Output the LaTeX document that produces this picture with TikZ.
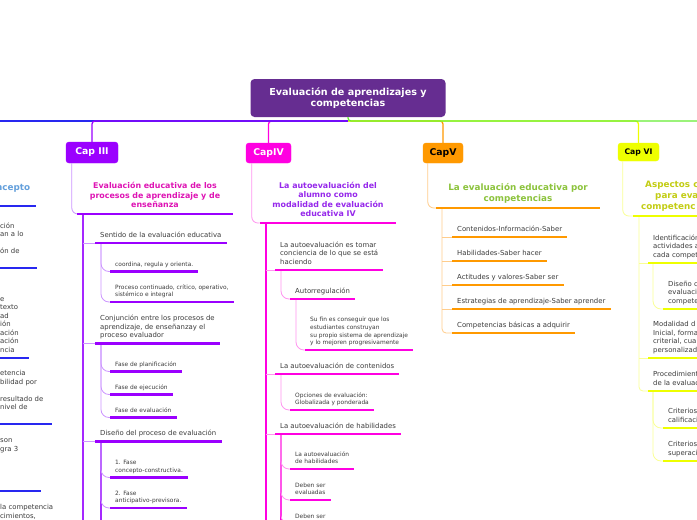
\documentclass[tikz,border=0pt]{standalone}
\usepackage{fontspec}
\setmainfont{DejaVu Sans}
\definecolor{rootc}{RGB}{102,45,145}
\definecolor{txtc}{RGB}{60,60,60}
\definecolor{c2}{RGB}{40,40,240}
\definecolor{t2c}{RGB}{100,160,220}
\definecolor{c3}{RGB}{155,0,255}
\definecolor{c3t}{RGB}{165,40,255}
\definecolor{l3}{RGB}{205,150,255}
\definecolor{t3c}{RGB}{222,20,180}
\definecolor{c4}{RGB}{255,0,225}
\definecolor{l4}{RGB}{255,150,240}
\definecolor{t4c}{RGB}{150,40,235}
\definecolor{c5}{RGB}{255,153,0}
\definecolor{l5}{RGB}{255,205,140}
\definecolor{t5c}{RGB}{140,195,60}
\definecolor{c6}{RGB}{238,255,0}
\definecolor{l6}{RGB}{250,255,150}
\definecolor{t6c}{RGB}{195,205,20}
\definecolor{gr}{RGB}{102,238,51}
\tikzset{
  every node/.style={inner sep=0pt},
  strutend/.style={execute at end node={\rule[-0.3\baselineskip]{0pt}{\baselineskip}}},
  bodyt/.style={font=\fontsize{6.9}{8.5}\selectfont, text=txtc, align=left, inner xsep=5pt, inner ysep=3pt, anchor=south west, strutend},
  smallt/.style={font=\fontsize{5.9}{7.7}\selectfont, text=txtc, align=left, inner xsep=5pt, inner ysep=2.7pt, anchor=south west, strutend},
  titlet/.style={font=\bfseries\fontsize{7.9}{9.5}\selectfont, align=center, inner xsep=12.5pt, inner ysep=3pt, anchor=south, strutend},
  bigtitlet/.style={font=\bfseries\fontsize{8.8}{11}\selectfont, align=center, inner xsep=12pt, inner ysep=3.2pt, anchor=south, strutend},
  capbox/.style={rounded corners=3pt, font=\bfseries\fontsize{9.3}{10}\selectfont, inner sep=0pt},
  uline/.style={line width=2.6pt, draw=#1},
  trunkl/.style={line width=1.8pt, draw=#1},
  thinl/.style={line width=0.8pt, draw=#1},
  mainl/.style={line width=1.3pt, draw=#1, rounded corners=3pt},
}
\begin{document}
\begin{tikzpicture}[x=1pt,y=-1pt]
\useasboundingbox (0,0) rectangle (697,520);
\begin{scope}
\clip (0,0) rectangle (697,520);
\fill[white] (0,0) rectangle (697,520);

% ---------- nodes ----------
\node[fill=rootc, rounded corners=4pt, minimum width=195pt, minimum height=38pt, text=white,
      font=\bfseries\fontsize{9.6}{11.5}\selectfont, align=center] (root) at (348,98)
      {Evaluación de aprendizajes y\\competencias};

\node[capbox, fill=c3, draw=c3, text=white, minimum width=52pt, minimum height=21pt] (cap3) at (92,152.5) {Cap III};
\node[capbox, fill=c4, draw=c4, text=white, minimum width=45pt, minimum height=20pt] (cap4) at (268.5,153) {CapIV};
\node[capbox, fill=c5, draw=c5, text=black, minimum width=40pt, minimum height=20pt] (cap5) at (443,153) {CapV};
\node[capbox, fill=c6, draw=c6, text=black, minimum width=41pt, minimum height=18pt,
      font=\bfseries\fontsize{7.7}{9}\selectfont] (cap6) at (638.5,152) {Cap VI};

\coordinate (hub) at (348,121);
\coordinate (farwest) at (-10,121);
\coordinate (fareast) at (710,121);
\coordinate (bottom) at (0,535);
\coordinate (redge) at (710,0);

% main branch lines
\draw[mainl=c4] (hub) -| (cap4.north);
\draw[mainl=c2] (hub) -- (farwest);
\draw[mainl=c3] (hub) -| (cap3.north);
\draw[mainl=c5] (hub) -| (cap5.north);
\draw[mainl=c6] (hub) -| (cap6.north);
\draw[mainl=gr] (root.south) |- (fareast);

% ---------- Cap II (cut off at left) ----------
\node[font=\bfseries\fontsize{8.8}{11}\selectfont, text=t2c, anchor=base west] (t2) at (-4,190.5) {ncepto};
\coordinate (t2ul) at (-10,206);
\draw[uline=c2] (t2ul) -- ++(46,0);
\node[bodyt] (p2a) at (-5,268) {ción\\an a lo\\\mbox{}\\ón de\\\mbox{}};
\node[bodyt] (p2b) at (-5,358) {e\\texto\\ad\\ión\\ación\\ación\\ncia};
\node[bodyt] (p2c) at (-5,424) {etencia\\bilidad por\\\mbox{}\\resultado de\\nivel de\\\mbox{}};
\node[bodyt] (p2d) at (-5,491) {son\\gra 3\\\mbox{}\\\mbox{}\\\mbox{}\\\mbox{}};
\node[bodyt] (p2e) at (-5,524) {la competencia\\cimientos,};
\draw[uline=c2] (p2a.south west) -- ++(42,0);
\draw[uline=c2] (p2b.south west) -- ++(34,0);
\draw[uline=c2] (p2c.south west) -- ++(57,0);
\draw[uline=c2] (p2d.south west) -- ++(46,0);

% ---------- Cap III ----------
\node[titlet, text=t3c] (t3) at (155,214) {Evaluación educativa de los\\procesos de aprendizaje y de\\enseñanza};
\coordinate (t3x) at ([xshift=6pt]t3.south west);
\node[bodyt] (c3a) at (95,243) {Sentido de la evaluación educativa};
\node[smallt] (c3a1) at (110,271.5) {coordina, regula y orienta.};
\node[smallt] (c3a2) at (110,302) {Proceso continuado, crítico, operativo,\\sistémico e integral};
\node[bodyt] (c3b) at (95,343.5) {Conjunción entre los procesos de\\aprendizaje, de enseñanzay el\\proceso evaluador};
\node[smallt] (c3b1) at (110,371.5) {Fase de planificación};
\node[smallt] (c3b2) at (110,394.5) {Fase de ejecución};
\node[smallt] (c3b3) at (110,417.5) {Fase de evaluación};
\node[bodyt] (c3c) at (95,441.5) {Diseño del proceso de evaluación};
\node[smallt] (c3c1) at (110,477.5) {1. Fase\\concepto-constructiva.};
\node[smallt] (c3c2) at (110,508) {2. Fase\\anticipativo-previsora.};
\coordinate (c3ax) at ([xshift=6pt]c3a.south west);
\coordinate (c3bx) at ([xshift=6pt]c3b.south west);
\coordinate (c3cx) at ([xshift=6pt]c3c.south west);

\draw[thinl=l3, rounded corners=6pt] ([xshift=6pt]cap3.south west) |- (t3.south west);
\draw[trunkl=c3t] (t3x) -- (t3x |- bottom);
\foreach \n in {c3a,c3b,c3c} \draw[thinl=l3] (\n.south west -| t3x) -- (\n.south west);
\foreach \n in {c3a1,c3a2} \draw[thinl=l3, rounded corners=8pt] (c3ax) |- (\n.south west);
\foreach \n in {c3b1,c3b2,c3b3} \draw[thinl=l3, rounded corners=8pt] (c3bx) |- (\n.south west);
\draw[trunkl=c3t] (c3cx) -- (c3cx |- bottom);
\foreach \n in {c3c1,c3c2} \draw[thinl=l3, rounded corners=8pt] (c3cx) |- (\n.south west);
\foreach \n in {t3,c3a,c3a1,c3a2,c3b,c3b1,c3b2,c3b3,c3c,c3c1,c3c2}
  \draw[uline=c3] (\n.south west) -- (\n.south east);

% ---------- Cap IV ----------
\node[titlet, text=t4c] (t4) at (328,223) {La autoevaluación del\\alumno como\\modalidad de evaluación\\educativa IV};
\coordinate (t4x) at ([xshift=6pt]t4.south west);
\node[bodyt] (c4a) at (275,270) {La autoevaluación es tomar\\conciencia de lo que se está\\haciendo};
\node[bodyt] (c4a1) at (290,299) {Autorregulación};
\node[smallt] (c4a1a) at (305,350) {Su fin es conseguir que los\\estudiantes construyan\\su propio sistema de aprendizaje\\y lo mejoren progresivamente};
\node[bodyt] (c4b) at (275,374) {La autoevaluación de contenidos};
\node[smallt] (c4b1) at (290,410) {Opciones de evaluación:\\Globalizada y ponderada};
\node[bodyt] (c4c) at (275,434) {La autoevaluación de habilidades};
\node[smallt] (c4c1) at (290,469) {La autoevaluación\\de habilidades};
\node[smallt] (c4c2) at (290,500) {Deben ser\\evaluadas};
\node[smallt] (c4c3) at (290,523.5) {Deben ser};
\coordinate (c4ax) at ([xshift=6pt]c4a.south west);
\coordinate (c4a1x) at ([xshift=6pt]c4a1.south west);
\coordinate (c4bx) at ([xshift=6pt]c4b.south west);
\coordinate (c4cx) at ([xshift=6pt]c4c.south west);

\draw[thinl=l4, rounded corners=6pt] ([xshift=6pt]cap4.south west) |- (t4.south west);
\draw[trunkl=c4] (t4x) -- (t4x |- bottom);
\foreach \n in {c4a,c4b,c4c} \draw[thinl=l4] (\n.south west -| t4x) -- (\n.south west);
\draw[thinl=l4, rounded corners=8pt] (c4ax) |- (c4a1.south west);
\draw[thinl=l4, rounded corners=8pt] (c4a1x) |- (c4a1a.south west);
\draw[thinl=l4, rounded corners=8pt] (c4bx) |- (c4b1.south west);
\draw[trunkl=c4] (c4cx) -- (c4cx |- bottom);
\foreach \n in {c4c1,c4c2,c4c3} \draw[thinl=l4, rounded corners=8pt] (c4cx) |- (\n.south west);
\foreach \n in {t4,c4a,c4a1,c4a1a,c4b,c4b1,c4c,c4c1,c4c2,c4c3}
  \draw[uline=c4] (\n.south west) -- (\n.south east);

% ---------- Cap V ----------
\node[bigtitlet, text=t5c] (t5) at (518,208) {La evaluación educativa por\\competencias};
\coordinate (t5x) at ([xshift=6pt]t5.south west);
\node[bodyt] (c5a) at (452,237) {Contenidos-Información-Saber};
\node[bodyt] (c5b) at (452,261) {Habilidades-Saber hacer};
\node[bodyt] (c5c) at (452,285) {Actitudes y valores-Saber ser};
\node[bodyt] (c5d) at (452,309) {Estrategias de aprendizaje-Saber aprender};
\node[bodyt] (c5e) at (452,333) {Competencias básicas a adquirir};

\draw[thinl=l5, rounded corners=6pt] ([xshift=5pt]cap5.south west) |- (t5.south west);
\draw[thinl=l5, rounded corners=4pt] (t5x) |- (c5e.south west);
\foreach \n in {c5a,c5b,c5c,c5d} \draw[thinl=l5] (\n.south west -| t5x) -- (\n.south west);
\foreach \n in {t5,c5a,c5b,c5c,c5d,c5e}
  \draw[uline=c5] (\n.south west) -- (\n.south east);

% ---------- Cap VI (cut off at right) ----------
\node[font=\bfseries\fontsize{8.8}{11}\selectfont, text=t6c, align=left, anchor=south west,
      inner xsep=0pt, inner ysep=3.2pt, strutend] (t6) at (633,216)
      {\hspace*{12pt}Aspectos c\\\hspace*{22pt}para eva\\\hspace*{8pt}competenc};
\coordinate (t6x) at ([xshift=6pt]t6.south west);
\node[bodyt] (c6a) at (648,263) {Identificación\\actividades a\\cada compet};
\node[bodyt] (c6a1) at (663,309) {Diseño c\\evaluaci\\compete};
\node[bodyt] (c6b) at (648,358) {Modalidad d\\Inicial, forma\\criterial, cua\\personalizad};
\node[bodyt] (c6c) at (648,391) {Procedimient\\de la evaluac};
\node[bodyt] (c6c1) at (663,428) {Criterios\\calificaci};
\node[bodyt] (c6c2) at (663,461) {Criterios\\superaci};
\coordinate (c6ax) at ([xshift=5pt]c6a.south west);
\coordinate (c6cx) at ([xshift=5pt]c6c.south west);

\draw[thinl=l6, rounded corners=6pt] ([xshift=5pt]cap6.south west) |- (t6.south west);
\draw[thinl=l6, rounded corners=4pt] (t6x) |- (c6c.south west);
\foreach \n in {c6a,c6b} \draw[thinl=l6] (\n.south west -| t6x) -- (\n.south west);
\draw[thinl=l6, rounded corners=8pt] (c6ax) |- (c6a1.south west);
\foreach \n in {c6c1,c6c2} \draw[thinl=l6, rounded corners=8pt] (c6cx) |- (\n.south west);
\foreach \n in {t6,c6a,c6a1,c6b,c6c,c6c1,c6c2}
  \draw[uline=c6] (\n.south west) -- (\n.south west -| redge);
\end{scope}
\end{tikzpicture}
\end{document}
